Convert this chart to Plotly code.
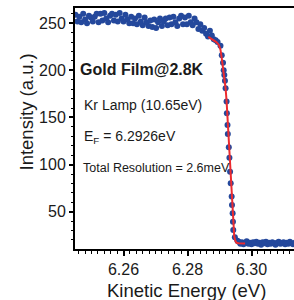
import plotly.graph_objects as go

# ---- data ----
energy_top = [6.2450, 6.2456, 6.2462, 6.2468, 6.2474, 6.2480, 6.2486, 6.2492, 6.2498, 6.2504,
              6.2510, 6.2516, 6.2522, 6.2528, 6.2534, 6.2540, 6.2546, 6.2552, 6.2558, 6.2564,
              6.2570, 6.2576, 6.2582, 6.2588, 6.2594, 6.2600, 6.2606, 6.2612, 6.2618, 6.2624,
              6.2630, 6.2636, 6.2642, 6.2648, 6.2654, 6.2660, 6.2666, 6.2672, 6.2678, 6.2684,
              6.2690, 6.2696, 6.2702, 6.2708, 6.2714, 6.2720, 6.2726, 6.2732, 6.2738, 6.2744,
              6.2750, 6.2756, 6.2762, 6.2768, 6.2774, 6.2780, 6.2786, 6.2792, 6.2798, 6.2804,
              6.2810, 6.2816, 6.2822, 6.2828, 6.2834, 6.2840, 6.2846, 6.2852, 6.2858, 6.2864,
              6.2870, 6.2876, 6.2882, 6.2888, 6.2894]
counts_top = [259, 252, 257, 251, 260, 254, 250, 258, 256, 252,
              257, 260, 251, 260, 253, 261, 255, 251, 258, 260,
              253, 259, 252, 261, 255, 252, 259, 254, 250, 257,
              250, 255, 249, 258, 252, 248, 256, 251, 247, 253,
              246, 254, 245, 251, 255, 247, 252, 255, 248, 256,
              249, 257, 251, 247, 255, 258, 249, 256, 249, 258,
              251, 248, 255, 251, 244, 249, 242, 245, 239, 236,
              242, 237, 233, 232, 230]

energy_edge = [6.2903, 6.2907, 6.2911, 6.2913, 6.2915, 6.2917, 6.2919, 6.2922, 6.2923, 6.2925,
               6.2926, 6.2929, 6.2931, 6.2933, 6.2935, 6.2938, 6.2939, 6.2941, 6.2942, 6.2943,
               6.2948, 6.2956]
counts_edge = [226, 216, 208, 200, 195, 189, 181, 167, 154.5, 142,
               132.5, 118.4, 107.3, 92.5, 80.1, 66, 57.1, 48.3, 39.4, 30.6,
               22.8, 19.2]

energy_bottom = [6.2960, 6.2965, 6.2970, 6.2975, 6.2980, 6.2985, 6.2990, 6.2995, 6.3000, 6.3005,
                 6.3010, 6.3015, 6.3020, 6.3025, 6.3030, 6.3035, 6.3040, 6.3045, 6.3050, 6.3055,
                 6.3060, 6.3065, 6.3070, 6.3075, 6.3080, 6.3085, 6.3090, 6.3095, 6.3100, 6.3105,
                 6.3110, 6.3115, 6.3120, 6.3125, 6.3130, 6.3135]
counts_bottom = [18, 16, 17.5, 15.5, 17, 18.5, 16, 17, 15.5, 17.5,
                 16.5, 18, 16, 17, 15, 17.5, 16.5, 18, 15.5, 17,
                 16, 17.5, 16.5, 15, 17, 18, 16, 16.5, 17.5, 15.5,
                 17, 16, 18, 16.5, 15.5, 17]

fit_energy = [6.2865, 6.2878, 6.2890, 6.2898, 6.2903, 6.2907, 6.2911, 6.2915, 6.2919, 6.2922,
              6.2925, 6.2928, 6.2931, 6.2934, 6.2937, 6.2940, 6.2942, 6.2944, 6.2946, 6.2949,
              6.2953, 6.2960, 6.2970, 6.2980]
fit_counts = [235.5, 233, 230, 227, 222, 213, 203, 193, 181, 168,
              150, 132, 110, 88, 70, 52, 40, 30, 24, 19.5,
              17, 16.5, 16.2, 16.2]

x_ticks = [6.26, 6.28, 6.30]
x_ticklabels = ["6.26", "6.28", "6.30"]
y_ticks = [50, 100, 150, 200, 250]

FONT = "Liberation Sans, Arial, sans-serif"
DOT = "#24489c"
RED = "#ec2b2f"
TXT = "#1a1a1a"

energy = energy_top + energy_edge + energy_bottom
counts = counts_top + counts_edge + counts_bottom

fig = go.Figure()
fig.add_trace(go.Scatter(x=energy, y=counts, mode="markers",
                         marker=dict(color=DOT, size=6, line=dict(width=0)),
                         showlegend=False))
fig.add_trace(go.Scatter(x=fit_energy, y=fit_counts, mode="lines",
                         line=dict(color=RED, width=2), showlegend=False))

fig.update_layout(
    width=294, height=300,
    margin=dict(l=75, r=0, t=8, b=51),
    paper_bgcolor="white", plot_bgcolor="white",
    font=dict(family=FONT, color=TXT, size=16),
    xaxis=dict(range=[6.24484, 6.31328], tickvals=x_ticks, ticktext=x_ticklabels,
               ticks="outside", ticklen=5, tickwidth=1.5, tickcolor="black",
               showline=True, linecolor="black", linewidth=2, mirror=True,
               showgrid=False, zeroline=False,
               tickfont=dict(size=16, family=FONT, color=TXT),
               minor=dict(dtick=0.002, tick0=6.26, ticks="outside", ticklen=3,
                          tickwidth=1.2, tickcolor="black", showgrid=False)),
    yaxis=dict(range=[10.4, 266.2], tickvals=y_ticks,
               ticks="outside", ticklen=4, tickwidth=1.5, tickcolor="black",
               showline=True, linecolor="black", linewidth=2, mirror=False,
               showgrid=False, zeroline=False,
               tickfont=dict(size=16, family=FONT, color=TXT),
               minor=dict(dtick=10, tick0=0, ticks="outside", ticklen=2.5,
                          tickwidth=1.2, tickcolor="black", showgrid=False)),
)

ann = [
    dict(text="Intensity (a.u.)", x=-0.222, y=0.568, textangle=-90,
         font=dict(size=18.5, family=FONT, color=TXT), xanchor="center", yanchor="middle"),
    dict(text="Kinetic Energy (eV)", x=0.511, y=-0.171,
         font=dict(size=18.5, family=FONT, color=TXT), xanchor="center", yanchor="middle"),
    dict(text="<b>Gold Film@2.8K</b>", x=0.014, y=0.743,
         font=dict(size=16, family=FONT, color=TXT), xanchor="left", yanchor="middle"),
    dict(text="Kr Lamp (10.65eV)", x=0.032, y=0.5975,
         font=dict(size=14, family=FONT, color=TXT), xanchor="left", yanchor="middle"),
    dict(text="E<sub>F</sub> = 6.2926eV", x=0.032, y=0.4647,
         font=dict(size=14, family=FONT, color=TXT), xanchor="left", yanchor="middle"),
    dict(text="Total Resolution = 2.6meV", x=0.028, y=0.336,
         font=dict(size=12.5, family=FONT, color=TXT), xanchor="left", yanchor="middle"),
]
for a in ann:
    fig.add_annotation(xref="paper", yref="paper", showarrow=False, **a)

fig.write_html("out.html", config={"displayModeBar": False},
               post_script="document.body.style.margin='0';")
